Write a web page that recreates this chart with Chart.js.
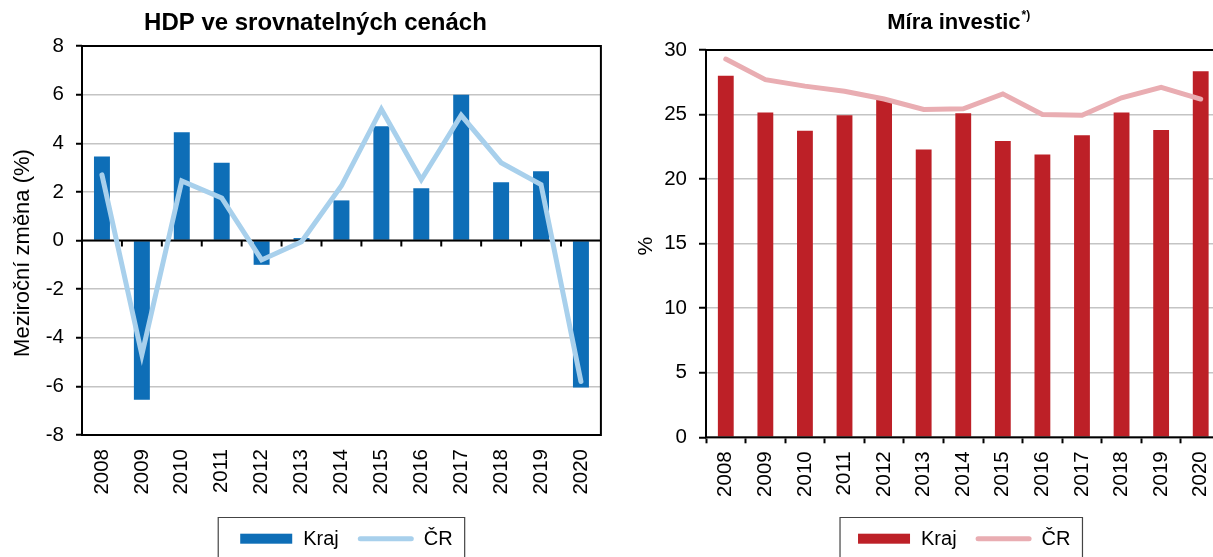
<!DOCTYPE html>
<html><head><meta charset="utf-8">
<script src="https://cdn.jsdelivr.net/npm/chart.js@4.4.1/dist/chart.umd.min.js"></script>
<style>
html,body{margin:0;padding:0;background:#fff;overflow:hidden;width:1213px;height:557px;position:relative;}
#w1{position:absolute;left:0;top:0;width:620px;height:557px;}
#w2{position:absolute;left:615px;top:0;width:620px;height:557px;}
</style></head><body>
<div id="w1"><canvas id="c1"></canvas></div>
<div id="w2"><canvas id="c2"></canvas></div>
<script>
// ---- data ----
const years = ['2008','2009','2010','2011','2012','2013','2014','2015','2016','2017','2018','2019','2020'];
const seriesNames = ['Kraj', 'ČR'];
const gdpRegion = [3.45, -6.55, 4.45, 3.2, -1.0, 0.1, 1.65, 4.7, 2.15, 6.0, 2.4, 2.85, -6.05];
const gdpCR     = [2.7, -4.7, 2.45, 1.75, -0.8, -0.05, 2.25, 5.4, 2.5, 5.15, 3.2, 2.3, -5.8];
const invRegion = [28.0, 25.15, 23.75, 24.95, 26.15, 22.3, 25.1, 22.95, 21.9, 23.4, 25.15, 23.8, 28.35];
const invCR     = [29.3, 27.7, 27.2, 26.8, 26.2, 25.4, 25.45, 26.6, 25.0, 24.95, 26.3, 27.1, 26.2];
const gdpTicks = [-8, -6, -4, -2, 0, 2, 4, 6, 8];
const invTicks = [0, 5, 10, 15, 20, 25, 30];
const gdpTitle = 'HDP ve srovnatelných cenách';
const invTitle = 'Míra investic';
const invTitleSup = '*)';
const gdpAxisTitle = 'Meziroční změna (%)';
const invAxisTitle = '%';

const FONT = '"Liberation Sans", Arial, Helvetica, sans-serif';

const framePlugin = {
  id: 'frame',
  afterDatasetDraw(chart, args, o) {
    if (args.index !== 0) return;
    const {ctx, chartArea: a, scales} = chart;
    ctx.save();
    ctx.strokeStyle = '#000';
    ctx.lineWidth = 2;
    if (o.zeroLine) {
      const y0 = scales.y.getPixelForValue(0);
      ctx.beginPath(); ctx.moveTo(a.left, y0); ctx.lineTo(a.right, y0); ctx.stroke();
      const x = scales.x;
      const half = (x.getPixelForValue(1) - x.getPixelForValue(0)) / 2;
      ctx.beginPath();
      for (let i = 0; i < years.length - 1; i++) {
        const px = x.getPixelForValue(i) + half;
        ctx.moveTo(px, y0); ctx.lineTo(px, y0 + 6);
      }
      ctx.stroke();
    }
    ctx.strokeRect(a.left, a.top, a.right - a.left, a.bottom - a.top);
    ctx.restore();
  }
};

const titlePlugin = {
  id: 'ctitle',
  afterDraw(chart, args, o) {
    const {ctx, chartArea: a} = chart;
    ctx.save();
    ctx.fillStyle = '#000';
    ctx.textAlign = 'left';
    ctx.textBaseline = 'alphabetic';
    ctx.font = `bold ${o.size}px ${FONT}`;
    const w = ctx.measureText(o.text).width;
    let sw = 0;
    if (o.sup) { ctx.font = `bold ${o.supSize}px ${FONT}`; sw = ctx.measureText(o.sup).width + 1; }
    const cx = (a.left + a.right) / 2 + o.dx;
    const x0 = cx - (w + sw) / 2;
    ctx.font = `bold ${o.size}px ${FONT}`;
    ctx.fillText(o.text, x0, o.y);
    if (o.sup) {
      ctx.font = `bold ${o.supSize}px ${FONT}`;
      ctx.fillText(o.sup, x0 + w + 1, o.y - o.supRaise);
    }
    // rotated axis title
    ctx.font = `${o.axisSize}px ${FONT}`;
    ctx.textAlign = 'center';
    ctx.translate(o.axisX, (a.top + a.bottom) / 2 + o.axisDy);
    ctx.rotate(-Math.PI / 2);
    ctx.fillText(o.axisText, 0, 0);
    ctx.restore();
  }
};

const legendPlugin = {
  id: 'clegend',
  afterDraw(chart, args, o) {
    const {ctx, chartArea: a} = chart;
    const ds = chart.data.datasets;
    ctx.save();
    ctx.font = `${o.size}px ${FONT}`;
    const t0 = ctx.measureText(ds[0].label).width;
    const t1 = ctx.measureText(ds[1].label).width;
    const padL = o.padL, sw = 52, g1 = 11, g2 = 19, lw = 56, g3 = 10, padR = 12;
    const total = padL + sw + g1 + t0 + g2 + lw + g3 + t1 + padR;
    const left = (a.left + a.right) / 2 + o.dx - total / 2;
    const top = o.top;
    const cy = o.cy;
    ctx.strokeStyle = '#444';
    ctx.lineWidth = 1.2;
    ctx.beginPath();
    ctx.moveTo(left, chart.height + 5);
    ctx.lineTo(left, top);
    ctx.lineTo(left + total, top);
    ctx.lineTo(left + total, chart.height + 5);
    ctx.stroke();
    let x = left + padL;
    ctx.fillStyle = ds[0].backgroundColor;
    ctx.fillRect(x, cy - 5, sw, 10);
    x += sw + g1;
    ctx.fillStyle = '#000';
    ctx.textBaseline = 'alphabetic';
    ctx.fillText(ds[0].label, x, o.base);
    x += t0 + g2;
    ctx.strokeStyle = ds[1].borderColor;
    ctx.lineWidth = 5;
    ctx.lineCap = 'round';
    ctx.beginPath();
    ctx.moveTo(x + 2.5, cy); ctx.lineTo(x + lw - 2.5, cy);
    ctx.stroke();
    x += lw + g3;
    ctx.fillText(ds[1].label, x, o.base);
    ctx.restore();
  }
};

function makeChart(canvasId, cfg) {
  return new Chart(document.getElementById(canvasId), {
    type: 'bar',
    data: {
      labels: years,
      datasets: [
        { type: 'bar', label: seriesNames[0], data: cfg.bars, backgroundColor: cfg.barColor,
          borderWidth: 0, barPercentage: 0.4, categoryPercentage: 1.0, order: 1 },
        { type: 'line', label: seriesNames[1], data: cfg.line, borderColor: cfg.lineColor,
          backgroundColor: cfg.lineColor, borderWidth: 5, pointRadius: 0, borderCapStyle: 'round',
          tension: 0, fill: false, order: 0 }
      ]
    },
    options: {
      responsive: true,
      maintainAspectRatio: false,
      animation: false,
      events: [],
      layout: { padding: cfg.padding },
      plugins: {
        legend: { display: false },
        title: { display: false },
        tooltip: { enabled: false },
        frame: { zeroLine: cfg.zeroLine },
        ctitle: cfg.title,
        clegend: cfg.legend
      },
      scales: {
        x: {
          offset: true,
          grid: { display: true, drawOnChartArea: false, drawTicks: cfg.xTicks, tickLength: 6,
                  tickColor: '#000', tickWidth: 2, offset: true, color: '#000' },
          border: { display: false },
          ticks: { color: '#000', font: { size: 20.5, family: FONT }, minRotation: 90, maxRotation: 90,
                   autoSkip: false, padding: cfg.xPad },
          afterFit(s) { s.height = 70; }
        },
        y: {
          min: cfg.ticks[0],
          max: cfg.ticks[cfg.ticks.length - 1],
          afterBuildTicks(s) { s.ticks = cfg.ticks.map(v => ({ value: v })); },
          ticks: { color: '#000', font: { size: 20.5, family: FONT }, padding: 12 },
          grid: { color: '#c4c4c4', lineWidth: 1.5, tickColor: '#000', tickWidth: 2,
                  tickLength: cfg.yTickLen, drawTicks: true },
          border: { display: false },
          title: { display: false },
          afterFit(s) { s.width = cfg.yWidth; }
        }
      }
    },
    plugins: [framePlugin, titlePlugin, legendPlugin]
  });
}

makeChart('c1', {
  bars: gdpRegion, line: gdpCR, barColor: '#0e6eb7', lineColor: '#a8d0ec',
  ticks: gdpTicks, zeroLine: true, xTicks: false, xPad: 14,
  yTickLen: 6, yWidth: 82,
  padding: { left: 0, right: 12, top: 46, bottom: 52 },
  title: { text: gdpTitle, size: 24, dx: -26, y: 30,
           axisText: gdpAxisTitle, axisSize: 22, axisX: 28.5, axisDy: 12.5 },
  legend: { size: 20, padL: 22, dx: 0, top: 517.5, cy: 538.7, base: 544.5 }
});

makeChart('c2', {
  bars: invRegion, line: invCR, barColor: '#bd2027', lineColor: '#e9adb2',
  ticks: invTicks, zeroLine: false, xTicks: true, xPad: 8,
  yTickLen: 7, yWidth: 91,
  padding: { left: 0, right: 14.5, top: 50, bottom: 49.7 },
  title: { text: invTitle, sup: invTitleSup, size: 22, supSize: 12, supRaise: 10, dx: -4.5, y: 29,
           axisText: invAxisTitle, axisSize: 21, axisX: 37, axisDy: 2.5 },
  legend: { size: 20, padL: 18, dx: -2, top: 517.5, cy: 538.7, base: 544.5 }
});
</script>
</body></html>
